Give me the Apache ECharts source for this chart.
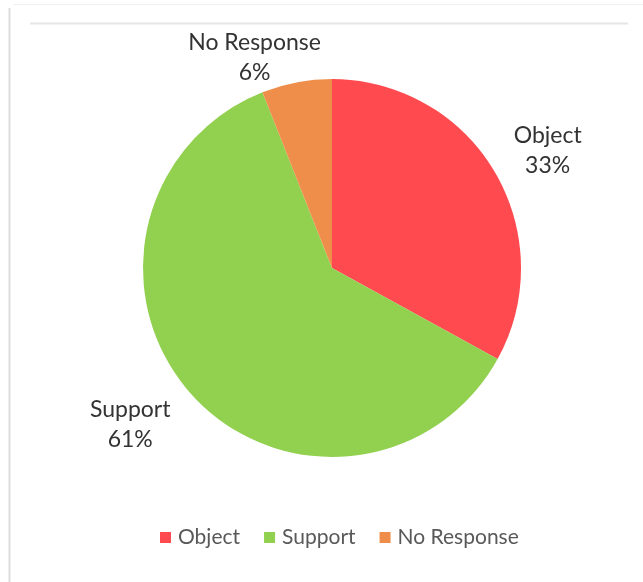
<!DOCTYPE html>
<html>
<head>
<meta charset="utf-8">
<script src="https://cdn.jsdelivr.net/npm/echarts@6/dist/echarts.min.js"></script>
<style>
  html, body { margin: 0; padding: 0; background: #ffffff; }
  #chart { width: 643px; height: 582px; }
</style>
</head>
<body>
<div id="chart"></div>
<script>
// Survey responses, share of each answer (%)
const categories = ['Object', 'Support', 'No Response'];
const shares = [33, 61, 6];
const colors = ['#FF4B4F', '#92D050', '#EF8E4A'];

// Pie geometry (px) and where each label sits relative to its slice edge
const PIE_CX = 332, PIE_CY = 268, PIE_R = 189;
const labelNudge = [[53, -21], [-60, 32], [-42, -25]];

const total = shares.reduce((a, b) => a + b, 0);
function midAngle(i) {
  // start at 12 o'clock, running clockwise (radians, math convention)
  let before = 0;
  for (let k = 0; k < i; k++) before += shares[k];
  const frac = (before + shares[i] / 2) / total;
  return Math.PI / 2 - frac * 2 * Math.PI;
}

const chart = echarts.init(document.getElementById('chart'), null, { renderer: 'canvas' });

chart.setOption({
  backgroundColor: '#ffffff',
  animation: false,
  color: colors,
  graphic: [
    { type: 'line', shape: { x1: 13, y1: 4.5, x2: 643, y2: 4.5 }, style: { stroke: '#f1f1f1', lineWidth: 1 }, silent: true },
    { type: 'line', shape: { x1: 9.5, y1: 8, x2: 9.5, y2: 582 }, style: { stroke: '#dedede', lineWidth: 2 }, silent: true },
    { type: 'line', shape: { x1: 30, y1: 23.5, x2: 628, y2: 23.5 }, style: { stroke: '#e6e6e6', lineWidth: 2 }, silent: true }
  ],
  legend: {
    data: categories,
    left: 160,
    top: 527,
    icon: 'rect',
    itemWidth: 11,
    itemHeight: 11,
    itemGap: 24,
    padding: 0,
    textStyle: {
      fontFamily: 'Lato',
      fontSize: 21,
      color: '#595959',
      padding: [0, 0, 0, 2]
    },
    selectedMode: false
  },
  series: [{
    type: 'pie',
    center: [PIE_CX, PIE_CY],
    radius: PIE_R,
    startAngle: 90,
    clockwise: true,
    avoidLabelOverlap: false,
    itemStyle: { borderWidth: 0 },
    emphasis: { disabled: true },
    label: {
      show: true,
      position: 'outside',
      formatter: p => p.name + '\n' + p.value + '%',
      fontFamily: 'Lato',
      fontSize: 23,
      lineHeight: 30,
      color: '#333333',
      align: 'center'
    },
    labelLine: { show: false },
    labelLayout: function (params) {
      const i = params.dataIndex;
      const a = midAngle(i);
      const ex = PIE_CX + PIE_R * Math.cos(a);
      const ey = PIE_CY - PIE_R * Math.sin(a);
      return {
        x: ex + labelNudge[i][0],
        y: ey + labelNudge[i][1],
        align: 'center',
        verticalAlign: 'middle'
      };
    },
    data: categories.map((name, i) => ({ name: name, value: shares[i] }))
  }]
});
</script>
</body>
</html>
